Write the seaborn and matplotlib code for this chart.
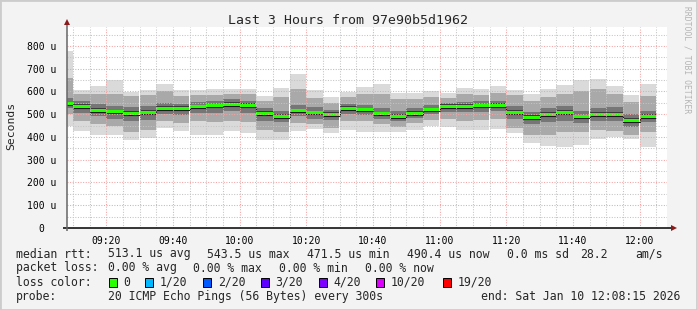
import numpy as np
import pandas as pd
import matplotlib
matplotlib.use("Agg")
import matplotlib.pyplot as plt
import matplotlib.dates as mdates
import matplotlib.ticker as mticker
from matplotlib.patches import Rectangle
import seaborn as sns

# ---------------- data (microseconds) ----------------
range_start = pd.Timestamp("2026-01-10 09:08:15")
range_end = pd.Timestamp("2026-01-10 12:08:15")
sample_times = pd.date_range("2026-01-10 09:10", periods=36, freq="5min")  # each covers (t-5min, t]

rtt_max = [776, 608, 624, 648, 599, 608, 633, 607, 606, 610, 612, 612, 580, 617, 678, 607, 577, 599,
           619, 633, 594, 592, 600, 592, 614, 610, 623, 606, 588, 610, 627, 648, 655, 624, 585, 633]
rtt_hi2 = [660, 590, 590, 590, 580, 585, 600, 580, 585, 585, 590, 590, 560, 575, 610, 570, 550, 575,
           590, 590, 565, 565, 575, 570, 590, 585, 595, 585, 560, 575, 590, 600, 610, 590, 555, 580]
rtt_hi3 = [570, 560, 545, 535, 530, 535, 550, 545, 555, 560, 565, 560, 525, 515, 540, 530, 520, 545,
           540, 525, 515, 525, 540, 550, 555, 560, 560, 535, 510, 525, 535, 515, 525, 530, 500, 515]
rtt_median = [545, 535, 516, 510, 503, 508, 525, 525, 532, 536, 543.5, 538, 504, 491, 514, 505, 500, 524,
              518, 501, 491, 504, 518, 533, 533, 536, 538, 508, 486, 500, 508, 488, 500, 500, 471.5, 490.4]
rtt_lo3 = [525, 505, 490, 480, 470, 475, 500, 495, 505, 505, 515, 505, 470, 465, 490, 480, 475, 500,
           495, 480, 470, 485, 500, 510, 510, 510, 515, 480, 455, 465, 470, 460, 470, 470, 445, 465]
rtt_lo2 = [500, 470, 455, 450, 420, 430, 470, 460, 470, 465, 470, 465, 430, 420, 460, 455, 440, 470,
           470, 455, 445, 460, 475, 480, 470, 475, 480, 440, 410, 410, 420, 420, 430, 425, 410, 420]
rtt_min = [448, 425, 408, 410, 387, 394, 440, 428, 408, 410, 424, 416, 387, 385, 426, 435, 416, 432,
           423, 423, 420, 432, 447, 445, 430, 430, 436, 419, 372, 360, 358, 366, 391, 401, 390, 358]

y_ticks = [0, 100, 200, 300, 400, 500, 600, 700, 800]
y_tick_labels = ["0  ", "100 u", "200 u", "300 u", "400 u", "500 u", "600 u", "700 u", "800 u"]

title = "Last 3 Hours from 97e90b5d1962"
legend_line1 = [("median rtt:", 16), ("513.1 us avg", 107.6), ("543.5 us max", 207.3), ("471.5 us min", 307.3),
                ("490.4 us now", 407.3), ("0.0 ms sd", 507.3), ("28.2", 580), ("am/s", 635)]
legend_line2 = [("packet loss:", 16), ("0.00 % avg", 107.6), ("0.00 % max", 193.3), ("0.00 % min", 279.3),
                ("0.00 % now", 365.3)]
loss_labels = ["0", "1/20", "2/20", "3/20", "4/20", "10/20", "19/20"]
loss_colors = ["#26ff00", "#00b8ff", "#0059ff", "#5e00ff", "#7e00ff", "#dd00ff", "#ff0000"]
loss_label_x = [123.6, 160, 217.8, 275.6, 333.3, 391, 457.3]
probe_text = "20 ICMP Echo Pings (56 Bytes) every 300s"
end_text = "end: Sat Jan 10 12:08:15 2026"

# ---------------- styling ----------------
sns.set_style("white")
MONO = ["DejaVu Sans Mono"]
plt.rcParams["font.family"] = MONO

W, H = 697, 310
fig = plt.figure(figsize=(W / 100, H / 100), dpi=100, facecolor="#f3f3f3")
ax_l, ax_b, ax_w, ax_h = 67, 228, 600, 201
ax = fig.add_axes([ax_l / W, (H - ax_b) / H, ax_w / W, ax_h / H])
ax.set_facecolor("white")

# column extents from sample timestamps
t_right = mdates.date2num(sample_times.to_pydatetime())
t_left = t_right - 5 / 1440.0
t_left = np.maximum(t_left, mdates.date2num(range_start.to_pydatetime()))
widths = t_right - t_left

mx = np.array(rtt_max); h2 = np.array(rtt_hi2); h3 = np.array(rtt_hi3)
md = np.array(rtt_median); l3 = np.array(rtt_lo3); l2 = np.array(rtt_lo2); mn = np.array(rtt_min)

for lo, hi, col in [(mn, mx, "#dadada"), (l2, h2, "#a9a9a9"), (l3, h3, "#767676")]:
    ax.bar(t_left, hi - lo, bottom=lo, width=widths, align="edge", color=col, linewidth=0, zorder=1)
ax.bar(t_left, 20, bottom=md - 10, width=widths, align="edge", color="#3a3a3a", linewidth=0, zorder=1.1)

# dark step line under the median (seaborn)
step_df = pd.DataFrame({
    "time": list(mdates.num2date(t_left)) + [mdates.num2date(t_right[-1])],
    "rtt": list(md - 6) + [md[-1] - 6],
})
step_df["time"] = pd.to_datetime(step_df["time"]).dt.tz_localize(None)
sns.lineplot(data=step_df, x="time", y="rtt", drawstyle="steps-post", color="#1a1a1a",
             linewidth=0.8, estimator=None, ax=ax, zorder=1.5)

# green median bars
ax.bar(t_left, 13, bottom=md - 6, width=widths, align="edge", color="#26ff00", linewidth=0, zorder=1.8)

ax.set_xlim(mdates.date2num(range_start.to_pydatetime()), mdates.date2num(range_end.to_pydatetime()))
ax.set_ylim(0, 883)
ax.set_xlabel(""); ax.set_ylabel("")

ax.xaxis.set_major_locator(mdates.MinuteLocator(byminute=[0, 20, 40]))
ax.xaxis.set_minor_locator(mdates.MinuteLocator(byminute=range(0, 60, 5)))
ax.xaxis.set_major_formatter(mdates.DateFormatter("%H:%M"))
ax.set_yticks(y_ticks)
ax.set_yticklabels(y_tick_labels)
ax.yaxis.set_minor_locator(mticker.MultipleLocator(50))

ax.tick_params(axis="both", which="both", direction="out", length=2.5, width=0.7, color="#888888",
               labelsize=7, labelcolor="black")
ax.tick_params(axis="y", which="major", pad=5)
ax.tick_params(axis="x", which="major", pad=3.5)

ax.set_axisbelow(False)
ax.grid(which="minor", color="#c4c4c4", linestyle=(0, (1, 1.5)), linewidth=0.75, zorder=2.5)
ax.grid(which="major", color="#f2a4a4", linestyle=(0, (1, 1.5)), linewidth=0.75, zorder=2.6)

for s in ax.spines.values():
    s.set_visible(False)

# axis lines with arrows
px_x = 1 / ax_w; px_y = 1 / ax_h
ax.plot([-4 * px_x, 1 + 5 * px_x], [0, 0], transform=ax.transAxes, color="black", lw=1.1,
        clip_on=False, zorder=5, solid_capstyle="butt")
ax.plot([0, 0], [-3 * px_y, 1 + 3 * px_y], transform=ax.transAxes, color="#666666", lw=1.1,
        clip_on=False, zorder=5, solid_capstyle="butt")
ax.plot([1 + 7 * px_x], [0], transform=ax.transAxes, marker=">", color="#8b1a1a", markersize=4,
        clip_on=False, zorder=6, markeredgewidth=0)
ax.plot([0], [1 + 5 * px_y], transform=ax.transAxes, marker="^", color="#8b1a1a", markersize=4,
        clip_on=False, zorder=6, markeredgewidth=0)

# ---------------- texts ----------------
def fx(x): return x / W
def fy(y): return 1 - y / H

fig.text(fx(348), fy(20), title, ha="center", va="center", fontsize=9.5, family=MONO)
fig.text(fx(11), fy(126), "Seconds", ha="center", va="center", rotation=90, fontsize=8.2, family=MONO)
fig.text(fx(687), fy(60), "RRDTOOL / TOBI OETIKER", ha="center", va="center", rotation=270,
         fontsize=5.8, color="#b4b4b4", family=MONO)

LFS = 8.3
for txt, x in legend_line1:
    fig.text(fx(x), fy(254), txt, ha="left", va="center", fontsize=LFS, family=MONO)
for txt, x in legend_line2:
    fig.text(fx(x), fy(268), txt, ha="left", va="center", fontsize=LFS, family=MONO)
fig.text(fx(16), fy(282), "loss color:", ha="left", va="center", fontsize=LFS, family=MONO)
for lab, col, x in zip(loss_labels, loss_colors, loss_label_x):
    fig.patches.append(Rectangle((fx(x - 14.6), fy(286.5)), 8 / W, 9 / H, transform=fig.transFigure,
                                 facecolor=col, edgecolor="black", linewidth=0.7))
    fig.text(fx(x), fy(282), lab, ha="left", va="center", fontsize=LFS, family=MONO)
fig.text(fx(16), fy(296.5), "probe:", ha="left", va="center", fontsize=LFS, family=MONO)
fig.text(fx(107.6), fy(296.5), probe_text, ha="left", va="center", fontsize=LFS, family=MONO)
fig.text(fx(680), fy(296.5), end_text, ha="right", va="center", fontsize=LFS, family=MONO)

# image frame
fig.patches.append(Rectangle((0, 0), 1, 1, transform=fig.transFigure, facecolor="none",
                             edgecolor="#cccccc", linewidth=2))

fig.savefig("out.png", dpi=100, facecolor=fig.get_facecolor())
